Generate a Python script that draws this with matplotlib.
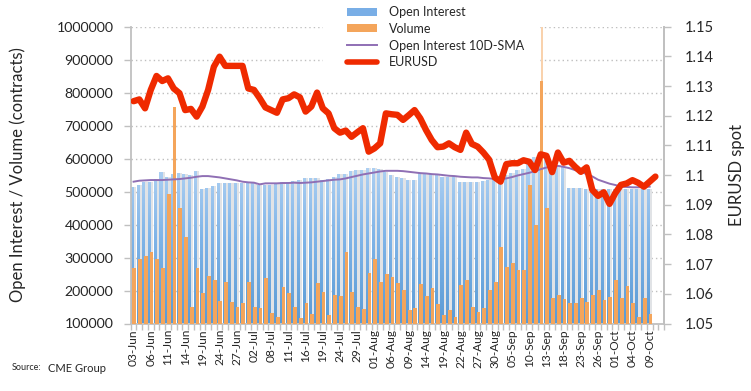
import numpy as np
import matplotlib
matplotlib.use('Agg')
import matplotlib.pyplot as plt
from matplotlib.path import Path
from matplotlib.patches import PathPatch, Rectangle, Patch
from matplotlib.lines import Line2D
from matplotlib.colors import LinearSegmentedColormap
from matplotlib.ticker import FuncFormatter, FixedLocator

plt.rcParams['font.family'] = ['Lato', 'DejaVu Sans']

# ---------------- data ----------------
dates = (
    ["03-Jun", "04-Jun", "05-Jun", "06-Jun", "07-Jun", "10-Jun", "11-Jun", "12-Jun", "13-Jun", "14-Jun",
     "17-Jun", "18-Jun", "19-Jun", "20-Jun", "21-Jun", "24-Jun", "25-Jun", "26-Jun", "27-Jun", "28-Jun",
     "01-Jul", "02-Jul", "03-Jul", "05-Jul", "08-Jul", "09-Jul", "10-Jul", "11-Jul", "12-Jul", "15-Jul",
     "16-Jul", "17-Jul", "18-Jul", "19-Jul", "22-Jul", "23-Jul", "24-Jul", "25-Jul", "26-Jul", "29-Jul",
     "30-Jul", "31-Jul", "01-Aug", "02-Aug", "05-Aug", "06-Aug", "07-Aug", "08-Aug", "09-Aug", "12-Aug",
     "13-Aug", "14-Aug", "15-Aug", "16-Aug", "19-Aug", "20-Aug", "21-Aug", "22-Aug", "23-Aug", "26-Aug",
     "27-Aug", "28-Aug", "29-Aug", "30-Aug", "03-Sep", "04-Sep", "05-Sep", "06-Sep", "09-Sep", "10-Sep",
     "11-Sep", "12-Sep", "13-Sep", "16-Sep", "17-Sep", "18-Sep", "19-Sep", "20-Sep", "23-Sep", "24-Sep",
     "25-Sep", "26-Sep", "27-Sep", "30-Sep", "01-Oct", "02-Oct", "03-Oct", "04-Oct", "07-Oct", "08-Oct",
     "09-Oct", "10-Oct", "11-Oct"])

open_interest = [
    515000, 520000, 530000, 530000, 537000, 560000, 545000, 553000, 555000, 552000,
    550000, 562000, 507000, 510000, 517000, 525000, 525000, 525000, 525000, 525000,
    527000, 525000, 520000, 520000, 520000, 523000, 528000, 530000, 532000, 535000,
    540000, 540000, 540000, 535000, 537000, 545000, 553000, 553000, 563000, 565000,
    565000, 571000, 572000, 568000, 560000, 550000, 543000, 540000, 535000, 535000,
    555000, 554000, 554000, 550000, 545000, 545000, 545000, 530000, 528000, 528000,
    528000, 533000, 535000, 538000, 540000, 550000, 555000, 565000, 568000, 586000,
    606000, 608000, 606000, 586000, 582000, 575000, 510000, 510000, 510000, 507000,
    507000, 507000, 507000, 508000, 508000, 508000, 508000, 508000, 508000, 508000,
    508000]

volume = [
    267000, 295000, 306000, 318000, 295000, 267000, 492000, 756000, 449000, 363000,
    151000, 267000, 192000, 245000, 232000, 169000, 227000, 166000, 151000, 163000,
    227000, 151000, 148000, 239000, 131000, 121000, 212000, 192000, 151000, 116000,
    161000, 129000, 222000, 197000, 126000, 186000, 183000, 316000, 195000, 149000,
    143000, 252000, 295000, 227000, 250000, 240000, 222000, 202000, 141000, 146000,
    219000, 183000, 207000, 158000, 126000, 141000, 119000, 216000, 232000, 149000,
    134000, 146000, 202000, 227000, 331000, 272000, 282000, 262000, 262000, 520000,
    400000, 835000, 449000, 176000, 186000, 173000, 161000, 163000, 176000, 164000,
    186000, 202000, 171000, 181000, 232000, 177000, 214000, 162000, 121000, 177000,
    129000]

# faint extension of the 12-Sep volume bar beyond the axis maximum
volume_overflow_day = ["12-Sep"]
volume_overflow_value = [1000000]

oi_sma10 = [
    530000, 533000, 534000, 535000, 535000, 535000, 536000, 537000, 538000, 540000,
    542000, 545000, 547000, 547000, 545000, 543000, 540000, 537000, 534000, 530000,
    528000, 527000, 522000, 525000, 525000, 525000, 526000, 526000, 527000, 526000,
    527000, 528000, 530000, 532000, 534000, 536000, 537000, 540000, 544000, 548000,
    552000, 555000, 558000, 561000, 563000, 563000, 563000, 562000, 560000, 558000,
    556000, 555000, 553000, 552000, 550000, 548000, 547000, 545000, 544000, 543000,
    543000, 541000, 540000, 538000, 537000, 540000, 544000, 549000, 553000, 557000,
    562000, 568000, 573000, 577000, 578000, 575000, 571000, 565000, 560000, 553000,
    546000, 536000, 530000, 524000, 520000, 515000, 514000, 513000, 513000, 514000,
    515000]

eurusd = [
    1.1249, 1.1255, 1.1225, 1.1287, 1.1334, 1.1317, 1.1326, 1.1292, 1.1276, 1.1219,
    1.1223, 1.1197, 1.1231, 1.1287, 1.1365, 1.1399, 1.1368, 1.1368, 1.1368, 1.1368,
    1.1292, 1.1287, 1.1259, 1.1228, 1.1219, 1.1210, 1.1255, 1.1259, 1.1272, 1.1262,
    1.1214, 1.1231, 1.1278, 1.1225, 1.1208, 1.1158, 1.1143, 1.1150, 1.1129, 1.1144,
    1.1158, 1.1079, 1.1090, 1.1107, 1.1208, 1.1205, 1.1203, 1.1186, 1.1202, 1.1219,
    1.1191, 1.1152, 1.1118, 1.1094, 1.1096, 1.1107, 1.1094, 1.1085, 1.1143, 1.1105,
    1.1096, 1.1076, 1.1052, 1.0992, 1.0978, 1.1037, 1.1040, 1.1040, 1.1050, 1.1045,
    1.1017, 1.1070, 1.1065, 1.1010, 1.1076, 1.1042, 1.1048, 1.1028, 1.1011, 1.1026,
    1.0950, 1.0930, 1.0942, 1.0903, 1.0939, 1.0967, 1.0972, 1.0983, 1.0974, 1.0961,
    1.0978, 1.0995]

# ---------------- figure ----------------
W, H = 751, 391
fig = plt.figure(figsize=(W / 100, H / 100), dpi=100)
fig.patch.set_facecolor('white')

L, R, T, B = 130.7, 664.0, 26.7, 323.5
ax = fig.add_axes([L / W, 1 - B / H, (R - L) / W, (B - T) / H])
ax2 = ax.twinx()
ax2.set_position(ax.get_position())

ncat = len(dates)
x_oi = np.arange(len(open_interest))
x_vol = np.arange(len(volume))
x_fx = np.arange(len(eurusd))
oi = np.array(open_interest, dtype=float)
vol = np.array(volume, dtype=float)

YMIN, YMAX = 100000, 1000000

# light gray side stripe of each open-interest column
ax.bar(x_oi + 0.25, oi - YMIN, bottom=YMIN, width=0.40, color='#e1e3e6',
       linewidth=0, zorder=2)

# blue open-interest columns with vertical gradient
verts, codes = [], []
for xi, v in zip(x_oi, oi):
    x0, x1 = xi - 0.48, xi + 0.05
    verts += [(x0, YMIN), (x1, YMIN), (x1, v), (x0, v), (x0, YMIN)]
    codes += [Path.MOVETO, Path.LINETO, Path.LINETO, Path.LINETO, Path.CLOSEPOLY]
clip = PathPatch(Path(verts, codes), transform=ax.transData, facecolor='none',
                 edgecolor='none')
ax.add_patch(clip)
cmap = LinearSegmentedColormap.from_list('oi', ['#5b9bd5', '#7fb4e8', '#b9d7f5'])
grad = np.linspace(0, 1, 256).reshape(-1, 1)
im = ax.imshow(grad, extent=[-0.5, ncat - 0.5, YMIN, 620000], origin='lower',
               aspect='auto', cmap=cmap, zorder=2.1, interpolation='bilinear')
im.set_clip_path(clip)

# faint overflow part of the spike
for d, v in zip(volume_overflow_day, volume_overflow_value):
    xi = dates.index(d)
    ax.bar(xi + 0.17, v - YMIN, bottom=YMIN, width=0.30, color='#f9d2ad',
           linewidth=0, zorder=2.9)

# orange volume columns
ax.bar(x_vol + 0.14, vol - YMIN, bottom=YMIN, width=0.66, color='#f4a55b',
       linewidth=0, zorder=3)

# SMA line
ax.plot(x_oi, oi_sma10, color='#8f6fb4', lw=1.4, zorder=4)

# EURUSD line on secondary axis
ax2.plot(x_fx, eurusd, color='#ef2a00', lw=4.6, solid_joinstyle='round',
         solid_capstyle='round', zorder=5)

# ---------------- axes styling ----------------
ax.set_xlim(-0.5, ncat - 0.5)
ax.set_ylim(YMIN, YMAX)
ax2.set_ylim(1.05, 1.15)

ax.set_yticks(np.arange(YMIN, YMAX + 1, 100000))
ax.yaxis.set_major_formatter(FuncFormatter(lambda v, p: f"{int(round(v))}"))
ax2.set_yticks(np.round(np.arange(1.05, 1.1501, 0.01), 2))
ax2.yaxis.set_major_formatter(FuncFormatter(lambda v, p: (f"{v:.2f}").rstrip('0')))

ax.grid(axis='y', color='#bfbfbf', linestyle=(0, (1, 2.2)), linewidth=1.0)
ax.set_axisbelow(True)

lab_idx = list(range(0, ncat, 3))
ax.xaxis.set_major_locator(FixedLocator(lab_idx))
ax.set_xticklabels([dates[i] for i in lab_idx], rotation=90, fontsize=8.6,
                   color='#262626')
ax.xaxis.set_minor_locator(FixedLocator(np.arange(-0.5, ncat, 1.0)))
ax.tick_params(axis='x', which='major', length=0, pad=4)
ax.tick_params(axis='x', which='minor', length=4, width=1, color='#c0c0c0',
               direction='out')
ax.tick_params(axis='y', length=5, width=1, color='#c0c0c0', labelsize=10.2,
               labelcolor='#262626', pad=7.5)
ax2.tick_params(axis='y', length=5, width=1, color='#c0c0c0', labelsize=10.5,
                labelcolor='#262626', pad=10)

for a in (ax, ax2):
    a.spines['top'].set_visible(False)
    for s in ('left', 'right', 'bottom'):
        a.spines[s].set_color('#c0c0c0')
        a.spines[s].set_linewidth(1.3)
ax2.spines['left'].set_visible(False)
ax2.spines['bottom'].set_visible(False)

# axis titles
fig.text(18 / W, 1 - 175 / H, "Open Interest / Volume (contracts)", rotation=90,
         ha='center', va='center', fontsize=12, color='#262626')
fig.text(737 / W, 1 - 175 / H, "EURUSD spot", rotation=90,
         ha='center', va='center', fontsize=12, color='#262626')

# source
fig.text(12 / W, 1 - 368 / H, "Source:", fontsize=6.5, ha='left', va='center',
         color='#262626')
fig.text(48 / W, 1 - 368 / H, "CME Group", fontsize=8.0, ha='left', va='center',
         color='#262626')

# legend background box
bg = Rectangle((323 / W, 1 - 82 / H), (539 - 323) / W, 82 / H,
               transform=fig.transFigure, facecolor='white', edgecolor='none',
               zorder=1)
fig.add_artist(bg)

handles = [
    Patch(facecolor='#79aee6', edgecolor='none'),
    Patch(facecolor='#f4a55b', edgecolor='none'),
    Line2D([], [], color='#8f6fb4', lw=1.4),
    Line2D([], [], color='#ef2a00', lw=4.0, solid_capstyle='round'),
]
labels = ["Open Interest", "Volume", "Open Interest 10D-SMA", "EURUSD"]
leg = fig.legend(handles, labels, loc='upper left',
                 bbox_to_anchor=(347 / W, 1 - 6 / H), frameon=False,
                 fontsize=9, handlelength=2.4, handletextpad=0.95,
                 labelspacing=0.38, borderpad=0, borderaxespad=0,
                 handleheight=0.6)
leg.set_zorder(2)
for t in leg.get_texts():
    t.set_color('#262626')

fig.savefig('out.png', dpi=100, facecolor='white')
